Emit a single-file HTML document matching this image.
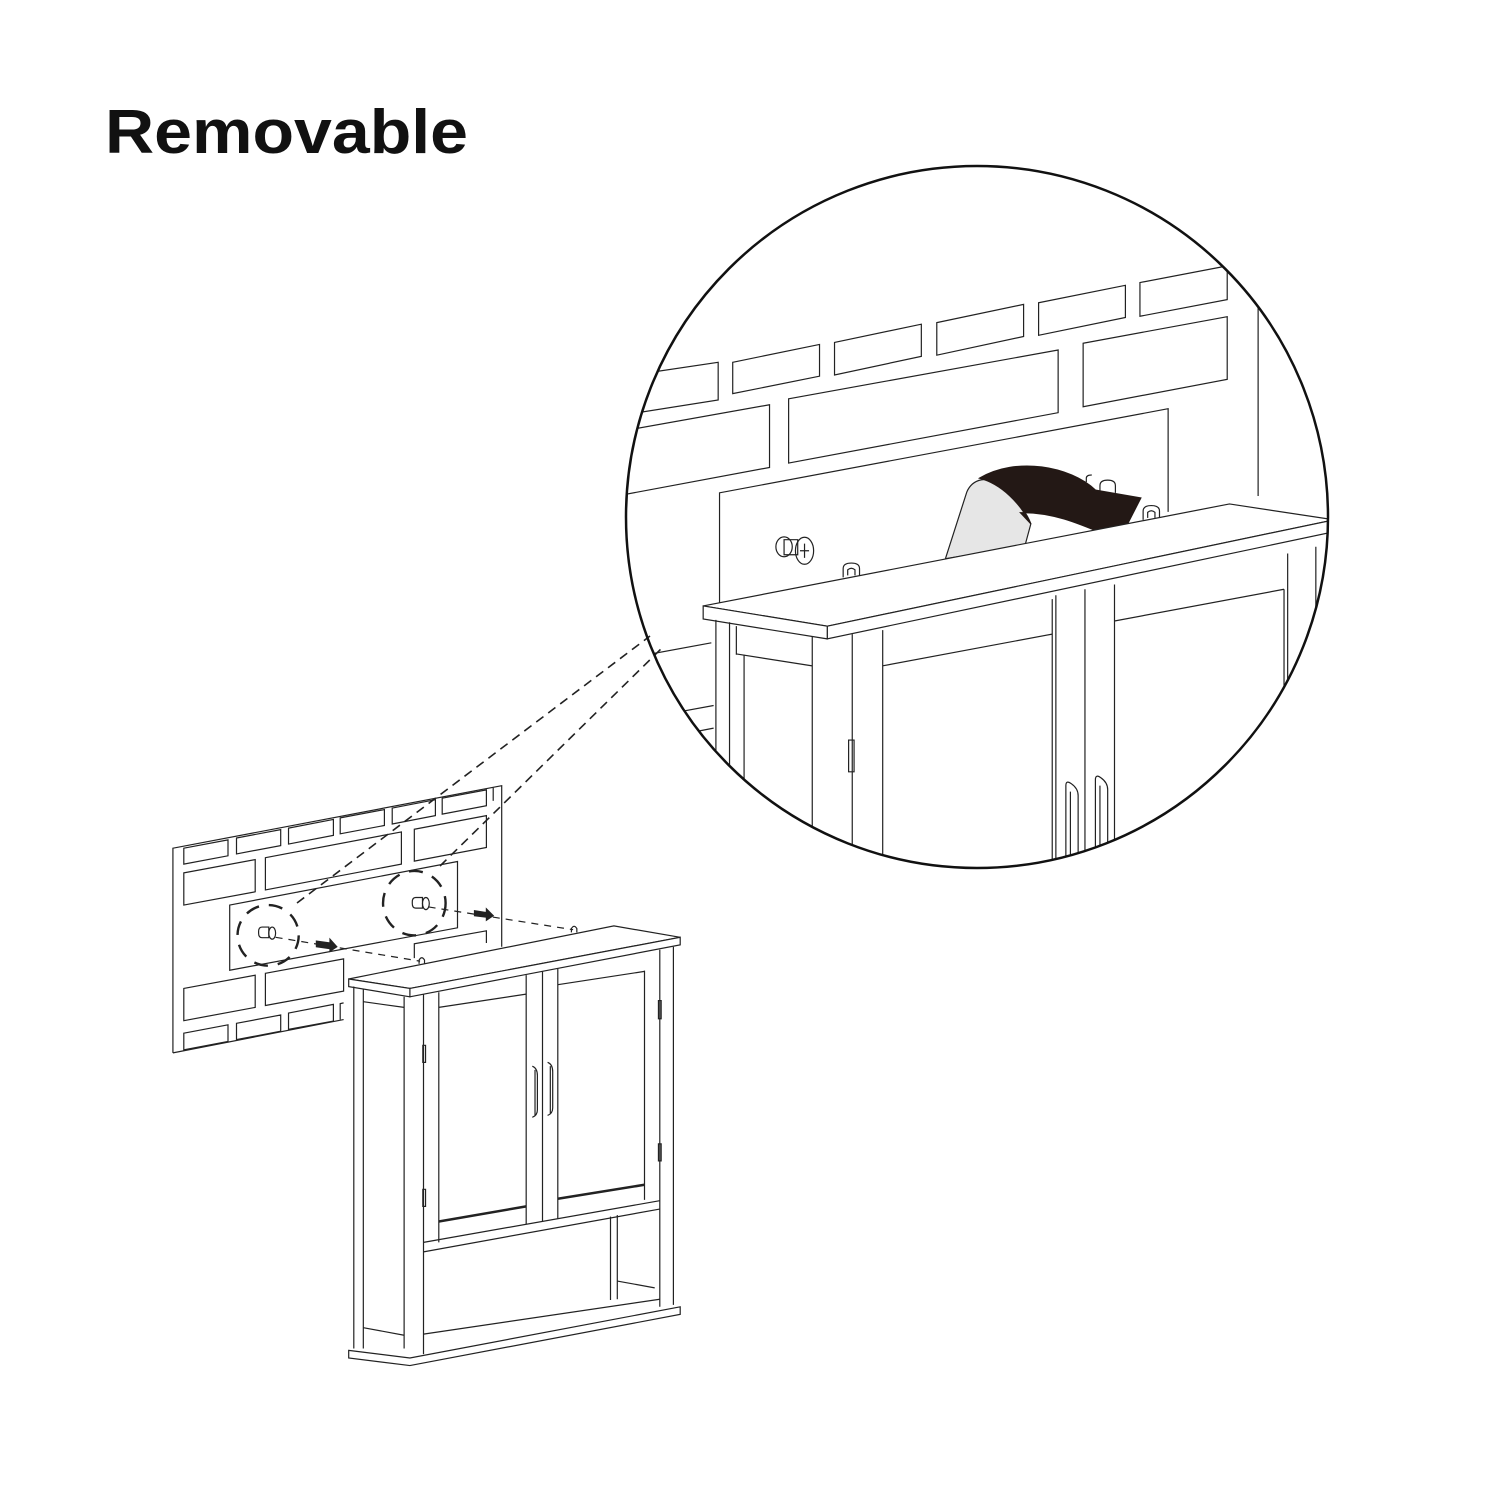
<!DOCTYPE html>
<html><head><meta charset="utf-8"><style>
html,body{margin:0;padding:0;background:#fff}
svg{display:block}
.t{font-family:"Liberation Sans",sans-serif;font-weight:bold;font-size:62px}
.l path,.l line,.l polygon,.l polyline,.l ellipse,.l rect{vector-effect:non-scaling-stroke}
</style></head><body>
<svg width="1500" height="1500" viewBox="0 0 1500 1500" xmlns="http://www.w3.org/2000/svg">
<text x="105" y="153" class="t" fill="#111" textLength="363" lengthAdjust="spacingAndGlyphs">Removable</text>
<defs><clipPath id="cc"><circle cx="977" cy="517" r="351"/></clipPath></defs>

<g stroke="#222" stroke-width="1.6" stroke-dasharray="9,6" fill="none">
<line x1="297" y1="903" x2="650" y2="636"/>
<line x1="440" y1="866" x2="664" y2="646"/>
</g>

<g clip-path="url(#cc)">
<g class="l" transform="translate(625,250) scale(0.4545,0.3968)" fill="none" stroke="#222" stroke-width="1.2">
<polyline points="0,318 205,283 205,378 0,415"/>
<polygon points="237,283 428,238 428,318 237,362"/>
<polygon points="461,233 652,187 652,268 461,315"/>
<polygon points="686,183 877,137 877,218 686,265"/>
<polygon points="910,133 1101,89 1101,170 910,215"/>
<polygon points="1133,82 1325,40 1325,125 1133,167"/>
<polyline points="1360,95 1360,75 1500,45"/>
<line x1="1393" y1="140" x2="1393" y2="620"/>
<polyline points="0,455 318,390 318,548 0,616"/>
<polygon points="360,375 953,252 953,410 360,537"/>
<polygon points="1008,235 1325,168 1325,326 1008,395"/>
<polyline points="208,900 208,612 1195,400 1195,660"/>
<line x1="0" y1="1030" x2="190" y2="990"/>
<line x1="100" y1="1168" x2="195" y2="1148"/>
<line x1="150" y1="1215" x2="195" y2="1205"/>
<ellipse cx="350" cy="748" rx="18" ry="25"/>
<rect x="350" y="730" width="30" height="38"/>
<ellipse cx="395" cy="758" rx="20" ry="34"/>
<path d="M385,758 h20 M395,740 v36"/>
<path d="M480,825 v-22 q0,-14 18,-14 q18,0 18,14 v22 M490,820 v-14 q8,-8 16,0 v14"/>
<path d="M1140,680 v-22 q0,-14 18,-14 q18,0 18,14 v22 M1150,675 v-14 q8,-8 16,0 v14"/>
<path d="M1045,612 v-18 q0,-14 17,-14 q17,0 17,14 v18"/>
<path d="M1015,585 v-10 q0,-8 12,-8"/>
<path d="M705,778 L752,610 C765,575 800,570 820,590 C850,620 880,650 893,690 L880,745 Z" fill="#e6e6e6"/>
<path d="M780,575 C860,520 980,545 1035,605 L1135,625 L1080,748 L1058,718 C1000,690 940,660 870,662 L893,690 C870,640 830,590 780,575 Z" fill="#231815" stroke="#231815"/>
<polygon points="172,897 1330,640 1560,680 445,948" fill="#fff"/>
<polygon points="445,948 1560,680 1560,710 445,980" fill="#fff"/>
<polygon points="172,897 445,948 445,980 172,930" fill="#fff"/>
<line x1="200" y1="932" x2="200" y2="1600"/>
<line x1="230" y1="938" x2="230" y2="1600"/>
<line x1="245" y1="948" x2="245" y2="1020"/>
<line x1="262" y1="1020" x2="262" y2="1600"/>
<line x1="245" y1="1018" x2="412" y2="1048"/>
<line x1="412" y1="975" x2="412" y2="1600"/>
<line x1="500" y1="968" x2="500" y2="1600"/>
<line x1="567" y1="958" x2="567" y2="1600"/>
<line x1="567" y1="1048" x2="940" y2="968"/>
<line x1="940" y1="880" x2="940" y2="1600"/>
<line x1="948" y1="870" x2="948" y2="1600"/>
<line x1="1012" y1="855" x2="1012" y2="1600"/>
<line x1="1077" y1="843" x2="1077" y2="1600"/>
<line x1="1077" y1="935" x2="1450" y2="855"/>
<line x1="1450" y1="855" x2="1450" y2="1300"/>
<line x1="1458" y1="765" x2="1458" y2="1300"/>
<line x1="1520" y1="748" x2="1520" y2="1300"/>
<rect x="492" y="1235" width="12" height="80"/>
<path d="M970,1560 V1350 q0,-15 12,-5 q15,12 15,30 V1560 M980,1560 V1365"/>
<path d="M1035,1545 V1335 q0,-15 12,-5 q15,12 15,30 V1545 M1045,1545 V1350"/>
</g>
</g>
<circle cx="977" cy="517" r="351" fill="none" stroke="#111" stroke-width="2.5"/>

<g class="l" transform="translate(160,780) scale(0.340,0.379)" fill="none" stroke="#222" stroke-width="1.2">
<polyline points="38,720 38,180 1005,15 1005,440"/>
<line x1="38" y1="720" x2="540" y2="632"/>
<line x1="980" y1="20" x2="980" y2="55"/>
<polygon points="70,180 200,158 200,200 70,222"/>
<polygon points="225,153 355,131 355,173 225,195"/>
<polygon points="378,127 510,104 510,146 378,169"/>
<polygon points="530,100 660,78 660,120 530,142"/>
<polygon points="683,74 810,52 810,94 683,116"/>
<polygon points="830,48 960,26 960,68 830,90"/>
<polygon points="70,245 280,210 280,295 70,330"/>
<polygon points="310,205 710,137 710,222 310,290"/>
<polygon points="748,130 960,94 960,178 748,214"/>
<polygon points="205,330 875,215 875,390 205,502"/>
<polygon points="70,550 280,515 280,600 70,635"/>
<polygon points="310,510 540,472 540,557 310,595"/>
<polyline points="748,470 748,432 960,398 960,430"/>
<polygon points="70,668 200,646 200,690 70,712"/>
<polygon points="225,642 355,620 355,663 225,685"/>
<polygon points="378,615 510,592 510,636 378,658"/>
<polyline points="530,632 530,590 540,588"/>
<ellipse cx="318" cy="410" rx="90" ry="80" stroke-dasharray="14,10" stroke-width="2.4"/>
<ellipse cx="748" cy="325" rx="92" ry="85" stroke-dasharray="14,10" stroke-width="2.4"/>
<g stroke-dasharray="7,6"><line x1="340" y1="415" x2="765" y2="478"/><line x1="790" y1="335" x2="1215" y2="395"/></g>
<path d="M290,400 q0,-12 10,-12 h20 v28 h-20 q-10,0 -10,-12 Z"/><ellipse cx="330" cy="404" rx="10" ry="16"/>
<path d="M742,322 q0,-12 10,-12 h20 v28 h-20 q-10,0 -10,-12 Z"/><ellipse cx="782" cy="326" rx="10" ry="16"/>
<polygon points="460,425 500,430 500,420 520,440 500,452 500,445 460,440" fill="#222"/>
<polygon points="925,345 960,350 960,340 980,358 960,370 960,362 925,358" fill="#222"/>
<path d="M762,485 v-10 q8,-12 16,0 v10 M1210,402 v-10 q8,-12 16,0 v10"/>
<polygon points="555,525 1335,385 1530,415 735,550" fill="#fff"/>
<polygon points="735,550 1530,415 1530,435 735,572" fill="#fff"/>
<polygon points="555,525 735,550 735,572 555,545" fill="#fff"/>
<line x1="570" y1="545" x2="570" y2="1500"/>
<line x1="598" y1="550" x2="598" y2="1500"/>
<line x1="718" y1="572" x2="718" y2="1500"/>
<line x1="775" y1="565" x2="775" y2="1515"/>
<polyline points="598,585 718,600 718,600"/>
<line x1="598" y1="1445" x2="718" y2="1465"/>
<line x1="820" y1="560" x2="820" y2="1220"/>
<line x1="1077" y1="515" x2="1077" y2="1172"/>
<line x1="1125" y1="505" x2="1125" y2="1165"/>
<line x1="1170" y1="498" x2="1170" y2="1158"/>
<line x1="1425" y1="503" x2="1425" y2="1108"/>
<line x1="1470" y1="448" x2="1470" y2="1390"/>
<line x1="1510" y1="440" x2="1510" y2="1385"/>
<line x1="820" y1="600" x2="1077" y2="565"/>
<line x1="1170" y1="540" x2="1425" y2="505"/>
<line x1="820" y1="1165" x2="1077" y2="1125" stroke-width="2.5"/>
<line x1="1170" y1="1105" x2="1425" y2="1068" stroke-width="2.5"/>
<line x1="775" y1="1220" x2="1470" y2="1110"/>
<line x1="775" y1="1245" x2="1470" y2="1132"/>
<line x1="1325" y1="1152" x2="1325" y2="1372"/>
<line x1="1345" y1="1148" x2="1345" y2="1370"/>
<line x1="1345" y1="1322" x2="1455" y2="1340"/>
<line x1="775" y1="1462" x2="1470" y2="1370"/>
<polygon points="555,1505 735,1525 1530,1390 1530,1410 735,1545 555,1525" fill="#fff"/>
<path d="M1095,890 q15,-5 15,-20 V780 q0,-20 -15,-25 M1103,885 V765"/>
<path d="M1140,885 q15,-5 15,-20 V770 q0,-20 -15,-25 M1148,880 V755"/>
<rect x="773" y="700" width="8" height="45"/>
<rect x="773" y="1080" width="8" height="45"/>
<rect x="1466" y="582" width="8" height="48"/>
<rect x="1466" y="960" width="8" height="45"/>
</g>
</svg>
</body></html>
